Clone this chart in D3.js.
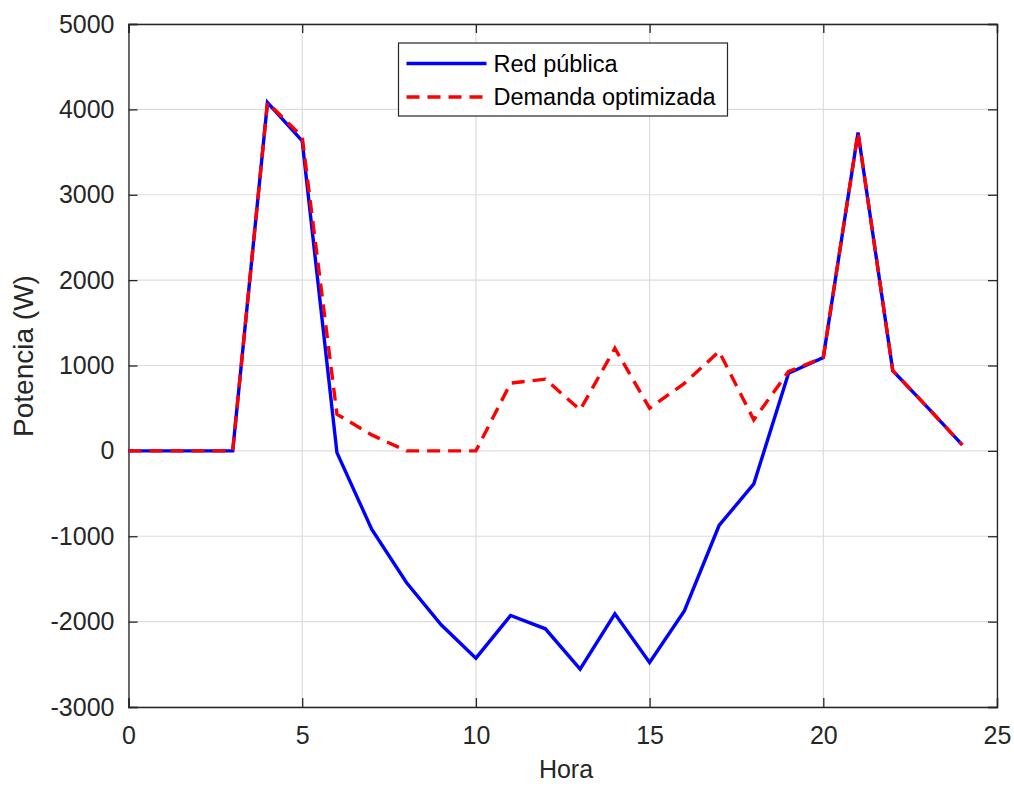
<!DOCTYPE html>
<html>
<head>
<meta charset="utf-8">
<script src="https://cdn.jsdelivr.net/npm/d3@7"></script>
<style>
  body { margin: 0; background: #fff; }
  svg { display: block; font-family: "Liberation Sans", Arial, sans-serif; }
</style>
</head>
<body>
<div id="chart"></div>
<script>
var hours = [0,1,2,3,4,5,6,7,8,9,10,11,12,13,14,15,16,17,18,19,20,21,22,23,24];
var redPublica = [0,0,0,0,4080,3630,-20,-917,-1542,-2037,-2428,-1928,-2084,-2556,-1909,-2479,-1874,-874,-386,910,1093,3730,940,510,70];
var demandaOpt = [0,0,0,0,4080,3680,430,187,0,0,0,793,840,480,1202,500,790,1165,363,930,1093,3730,940,510,70];
var xTicks = [0,5,10,15,20,25];
var yTicks = [-3000,-2000,-1000,0,1000,2000,3000,4000,5000];
var seriesNames = ["Red pública", "Demanda optimizada"];

var W = 1014, H = 786;
var margin = { left:128.5, right:17, top:24, bottom:79 };
var width = W - margin.left - margin.right,
    height = H - margin.top - margin.bottom;

var svg = d3.select("#chart")
    .append("svg")
        .attr("width", W)
        .attr("height", H);

var g = svg.append("g")
    .attr("transform", "translate(" + margin.left + "," + margin.top + ")");

var x = d3.scaleLinear().domain([0, 25]).range([0, width]);
var y = d3.scaleLinear().domain([-3000, 5000]).range([height, 0]);

// grid
g.append("g").selectAll("line")
    .data(xTicks)
    .enter().append("line")
        .attr("x1", function(d){ return x(d); })
        .attr("x2", function(d){ return x(d); })
        .attr("y1", 0)
        .attr("y2", height)
        .attr("stroke", "#dcdcdc")
        .attr("stroke-width", 1.2);

g.append("g").selectAll("line")
    .data(yTicks)
    .enter().append("line")
        .attr("y1", function(d){ return y(d); })
        .attr("y2", function(d){ return y(d); })
        .attr("x1", 0)
        .attr("x2", width)
        .attr("stroke", "#dcdcdc")
        .attr("stroke-width", 1.2);

// axes, ticks inside, mirrored on the box
var tickLen = 9;
var axisColor = "#262626";
var fmt = function(d){ return String(d); };

var xAxisB = g.append("g")
    .attr("transform", "translate(0," + height + ")")
    .call(d3.axisBottom(x).tickValues(xTicks).tickSize(-tickLen).tickPadding(19).tickFormat(fmt));
var xAxisT = g.append("g")
    .call(d3.axisTop(x).tickValues(xTicks).tickSize(-tickLen).tickFormat(""));
var yAxisL = g.append("g")
    .call(d3.axisLeft(y).tickValues(yTicks).tickSize(-tickLen).tickPadding(14).tickFormat(fmt));
var yAxisR = g.append("g")
    .attr("transform", "translate(" + width + ",0)")
    .call(d3.axisRight(y).tickValues(yTicks).tickSize(-tickLen).tickFormat(""));

[xAxisB, xAxisT, yAxisL, yAxisR].forEach(function(a){
    a.select(".domain").attr("stroke", axisColor).attr("stroke-width", 1.3);
    a.selectAll(".tick line").attr("stroke", axisColor).attr("stroke-width", 1.3);
    a.selectAll(".tick text")
        .attr("fill", axisColor)
        .attr("font-size", "25px")
        .attr("font-family", "Liberation Sans, Arial, sans-serif");
});

// lines
var line = d3.line()
    .x(function(d, i){ return x(hours[i]); })
    .y(function(d){ return y(d); });

g.append("path")
    .datum(redPublica)
    .attr("fill", "none")
    .attr("stroke", "#0000ff")
    .attr("stroke-width", 3.4)
    .attr("d", line);

g.append("path")
    .datum(demandaOpt)
    .attr("fill", "none")
    .attr("stroke", "#ff0000")
    .attr("stroke-width", 3.4)
    .attr("stroke-dasharray", "13,8")
    .attr("d", line);

// axis labels
svg.append("text")
    .attr("x", 566)
    .attr("y", 778)
    .attr("text-anchor", "middle")
    .attr("font-size", "25px")
    .attr("fill", axisColor)
    .text("Hora");

svg.append("text")
    .attr("transform", "translate(33,356) rotate(-90)")
    .attr("text-anchor", "middle")
    .attr("font-size", "28px")
    .attr("fill", axisColor)
    .text("Potencia (W)");

// legend
var legend = svg.append("g").attr("transform", "translate(398.5,43)");
legend.append("rect")
    .attr("width", 329)
    .attr("height", 73)
    .attr("fill", "#fff")
    .attr("stroke", axisColor)
    .attr("stroke-width", 1.2);

var legendRows = [
    { name: seriesNames[0], color: "#0000ff", dash: null },
    { name: seriesNames[1], color: "#ff0000", dash: "13,8" }
];

legendRows.forEach(function(d, i){
    var ly = 20.5 + i * 33.5;
    legend.append("line")
        .attr("x1", 8).attr("x2", 88)
        .attr("y1", ly).attr("y2", ly)
        .attr("stroke", d.color)
        .attr("stroke-width", 3.4)
        .attr("stroke-dasharray", d.dash);
    legend.append("text")
        .attr("x", 95)
        .attr("y", ly)
        .attr("dominant-baseline", "central")
        .attr("font-size", "23.5px")
        .attr("fill", "#000")
        .text(d.name);
});
</script>
</body>
</html>
